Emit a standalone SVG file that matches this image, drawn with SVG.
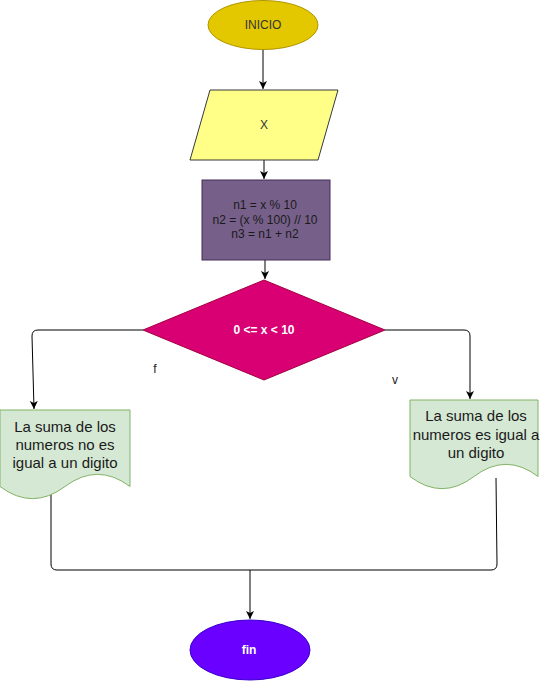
<svg xmlns="http://www.w3.org/2000/svg" width="541" height="681" viewBox="0 0 541 681">
<style>
.c{fill:none;stroke:#000;stroke-width:1}
.t{font-family:"Liberation Sans",Arial,sans-serif;text-anchor:middle}
.s12{font-size:12px}
.s15{font-size:15px;fill:#1a1a1a}
.b{font-weight:bold;fill:#fff}
.doc{fill:#d5e8d4;stroke:#82b366}
</style>
<defs>
<marker id="a" markerWidth="10" markerHeight="10" refX="8" refY="4" orient="auto" markerUnits="userSpaceOnUse">
<path d="M0,0 L8,4 L0,8 L2,4 Z" fill="#000"/>
</marker>
</defs>
<g id="connectors">
<path class="c" d="M263,50 V89" marker-end="url(#a)"/>
<path class="c" d="M264,160 V179" marker-end="url(#a)"/>
<path class="c" d="M265,260 V279" marker-end="url(#a)"/>
<path class="c" d="M143,330 H38 Q32,330 32,336 L34,409" marker-end="url(#a)"/>
<path class="c" d="M385,330 H464 Q470,330 470,336 V399" marker-end="url(#a)"/>
<path class="c" d="M51,490 V564 Q51,570 57,570 H491 Q497,570 497,564 L496,478"/>
<path class="c" d="M250,570 V619" marker-end="url(#a)"/>
</g>
<g id="inicio">
<ellipse cx="263" cy="25" rx="55" ry="24.5" fill="#e3c800" stroke="#b09500"/>
<text class="t s12" x="263" y="29" fill="#333">INICIO</text>
</g>
<g id="entrada">
<polygon points="210,90 338,90 318,160 190,160" fill="#ffff88" stroke="#36393d"/>
<text class="t s12" x="264" y="129" fill="#333">X</text>
</g>
<g id="proceso">
<rect x="202" y="180" width="128" height="80" fill="#76608a" stroke="#432d57"/>
<text class="t s12" fill="#1a1a1a"><tspan x="265" y="209">n1 = x % 10</tspan><tspan x="265" y="223.7">n2 = (x % 100) // 10</tspan><tspan x="265" y="238.4">n3 = n1 + n2</tspan></text>
</g>
<g id="decision">
<polygon points="264,280 385,330 264,380 143,330" fill="#d80073" stroke="#a50040"/>
<text class="t s12 b" x="264" y="334">0 &lt;= x &lt; 10</text>
</g>
<g id="label-f"><text class="t s12" x="155" y="373" fill="#1a1a1a">f</text></g>
<g id="label-v"><text class="t s12" x="395" y="384" fill="#1a1a1a">v</text></g>
<g id="doc-no">
<path class="doc" d="M0,410 H130 V486.5 Q97.5,462.2 65,486.5 Q32.5,510.8 0,486.5 Z"/>
<text class="t s15"><tspan x="65" y="431.5">La suma de los</tspan><tspan x="65" y="450">numeros no es</tspan><tspan x="65" y="468.4">igual a un digito</tspan></text>
</g>
<g id="doc-si">
<path class="doc" d="M410,400 H538 V476.5 Q506,452.2 474,476.5 Q442,500.8 410,476.5 Z"/>
<text class="t s15"><tspan x="476" y="421">La suma de los</tspan><tspan x="476" y="439.5">numeros es igual a</tspan><tspan x="476" y="458">un digito</tspan></text>
</g>
<g id="fin">
<ellipse cx="250" cy="650" rx="60" ry="30" fill="#6a00ff" stroke="#3700cc"/>
<text class="t s12 b" x="249" y="654">fin</text>
</g>
</svg>
